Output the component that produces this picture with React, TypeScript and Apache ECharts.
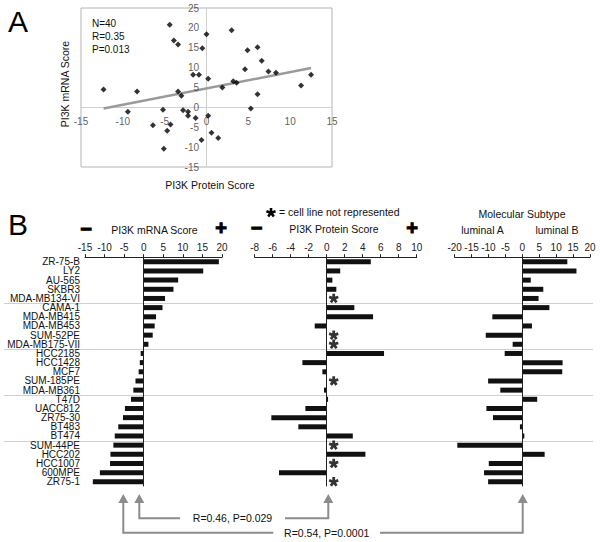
import React, { useEffect, useRef } from "react";
import * as echarts from "echarts";

const FONT = "'Liberation Sans', Arial, Helvetica, sans-serif";

// ---------- Panel A data ----------
const proteinA = [-4.4, 0.0, 3.0, -3.9, -3.4, -0.5, 4.9, 6.1, 6.6, 4.6, 7.4, 8.3, 12.5, -1.6, -0.9, 0.2, 3.2, 3.6, 1.9, 11.3, -12.3, -8.3, -3.4, -3.0, 6.1, 5.3, -9.4, -5.2, -2.8, -2.2, -2.2, 0.2, -1.3, -6.4, -4.3, -4.7, 0.6, 1.4, -0.6, -5.1];
const mrnaA = [20.8, 18.4, 19.4, 16.8, 15.8, 14.9, 14.4, 15.1, 11.7, 9.6, 9.0, 8.7, 8.2, 8.2, 8.2, 7.2, 6.6, 6.2, 5.0, 5.5, 4.5, 4.0, 4.0, 2.9, 3.3, -0.3, -1.1, -0.6, -0.7, -1.1, -2.1, -2.1, -2.7, -4.5, -4.3, -5.9, -6.4, -7.7, -8.2, -10.4];
const trendX = [-12.3, 12.5];
const trendY = [-0.3, 9.9];
const statsA = ["N=40", "R=0.35", "P=0.013"];
const xTicksA = [-15, -10, -5, 0, 5, 10, 15];
const yTicksA = [-15, -10, -5, 0, 5, 10, 15, 20, 25];

// ---------- Panel B data ----------
const cellLines = ["ZR-75-B", "LY2", "AU-565", "SKBR3", "MDA-MB134-VI", "CAMA-1", "MDA-MB415", "MDA-MB453", "SUM-52PE", "MDA-MB175-VII", "HCC2185", "HCC1428", "MCF7", "SUM-185PE", "MDA-MB361", "T47D", "UACC812", "ZR75-30", "BT483", "BT474", "SUM-44PE", "HCC202", "HCC1007", "600MPE", "ZR75-1"];
const mrnaB = [19.2, 15.2, 8.8, 7.6, 5.45, 4.8, 3.15, 2.8, 2.3, 1.2, -0.77, -1.0, -1.3, -2.1, -2.65, -3.25, -4.8, -5.3, -6.5, -7.4, -7.75, -8.5, -8.6, -11.2, -13.0];
const proteinB: (number | null)[] = [4.9, 1.5, 0.63, 1.07, null, 3.07, 5.15, -1.33, null, null, 6.37, -2.7, -0.48, null, -0.3, 0.15, -2.37, -6.15, -3.15, 2.9, null, 4.3, null, -5.3, null];
const subtypeB = [13.3, 16.0, 2.5, 6.2, 4.8, 8.0, -8.85, 2.85, -10.8, -2.85, -5.2, 11.9, 11.8, -10.1, -6.5, 4.4, -10.6, -8.65, -0.7, 0.6, -19.2, 6.6, -9.9, -11.3, -10.1];
const groupSizes = [5, 5, 5, 5, 5];
const corrLabels = ["R=0.46, P=0.029", "R=0.54, P=0.0001"];

// asterisk (5-arm) outline
function asteriskPoints(cx: number, cy: number, r: number, w: number) {
  const pts: number[][] = [];
  const inner = w / Math.sin((36 * Math.PI) / 180);
  for (let k = 0; k < 5; k++) {
    const t = ((-90 + 72 * k) * Math.PI) / 180;
    const c = Math.cos(t), s = Math.sin(t);
    pts.push([cx + r * c + w * s, cy + r * s - w * c]);
    pts.push([cx + r * c - w * s, cy + r * s + w * c]);
    const ti = t + (36 * Math.PI) / 180;
    pts.push([cx + inner * Math.cos(ti), cy + inner * Math.sin(ti)]);
  }
  return pts;
}
const starPath =
  "path://" +
  asteriskPoints(10, 10, 10, 2.9)
    .map((p, i) => (i === 0 ? "M" : "L") + p[0].toFixed(2) + " " + p[1].toFixed(2))
    .join(" ") +
  " Z";

const GREY = "#8c8c8c";

export default function App() {
  const ref = useRef<HTMLDivElement>(null);
  useEffect(() => {
    if (!ref.current) return;
    const chart = echarts.init(ref.current, undefined, { renderer: "svg" });

    const bAxisX = (gi: number, min: number, max: number, interval: number) => ({
      type: "value",
      gridIndex: gi,
      position: "top",
      min,
      max,
      interval,
      splitLine: { show: false },
      axisLine: { show: true, onZero: false, lineStyle: { color: "#222", width: 1 } },
      axisTick: { show: true, length: 3, lineStyle: { color: "#222" } },
      axisLabel: { fontSize: 10, color: "#222", margin: 5, fontFamily: FONT },
    });
    const bAxisY = (gi: number, showLabels: boolean) => ({
      type: "category",
      gridIndex: gi,
      inverse: true,
      data: cellLines,
      axisLine: { show: false, onZero: false },
      axisTick: { show: false },
      splitLine: { show: false },
      axisLabel: {
        show: showLabels,
        interval: 0,
        fontSize: 10,
        lineHeight: 9,
        color: "#111",
        margin: 5,
        fontFamily: FONT,
      },
    });
    const zeroLine = {
      silent: true,
      symbol: ["none", "none"],
      label: { show: false },
      lineStyle: { color: "#222", width: 1, type: "solid" },
      data: [{ xAxis: 0 }],
    };
    const barSeries = (idx: number, data: (number | null)[]) => ({
      type: "bar",
      xAxisIndex: idx,
      yAxisIndex: idx,
      data,
      barWidth: 5,
      itemStyle: { color: "#111" },
      markLine: zeroLine,
    });
    const tickLabelSeries = (data: number[][], position: string, distance: number, dim: number) => ({
      type: "scatter",
      xAxisIndex: 0,
      yAxisIndex: 0,
      data,
      symbolSize: 1,
      silent: true,
      itemStyle: { color: "transparent" },
      label: {
        show: true,
        position,
        distance,
        fontSize: 10,
        color: "#333",
        fontFamily: FONT,
        formatter: (p: any) => String(p.value[dim]),
      },
      z: 2,
    });

    chart.setOption({
      animation: false,
      backgroundColor: "#fff",
      textStyle: { fontFamily: FONT },
      grid: [
        { left: 81, top: 8, width: 251, height: 159, show: true, borderColor: "#b4b4b4", borderWidth: 1, backgroundColor: "transparent" },
        { left: 85, top: 257.2, width: 137, height: 229.2 },
        { left: 254.7, top: 257.2, width: 162, height: 229.2 },
        { left: 454.6, top: 257.2, width: 135.4, height: 229.2 },
      ],
      xAxis: [
        {
          type: "value",
          gridIndex: 0,
          min: -15,
          max: 15,
          interval: 5,
          splitLine: { show: false },
          axisLine: { onZero: true, lineStyle: { color: "#cfcfcf", width: 1 } },
          axisTick: { show: false },
          axisLabel: { show: false },
        },
        bAxisX(1, -15, 20, 5),
        bAxisX(2, -8, 10, 2),
        bAxisX(3, -20, 20, 5),
      ],
      yAxis: [
        {
          type: "value",
          gridIndex: 0,
          min: -15,
          max: 25,
          interval: 5,
          splitLine: { show: false },
          axisLine: { onZero: true, lineStyle: { color: "#cfcfcf", width: 1 } },
          axisTick: { show: false },
          axisLabel: { show: false },
        },
        bAxisY(1, true),
        bAxisY(2, false),
        bAxisY(3, false),
      ],
      series: [
        tickLabelSeries(xTicksA.map((t) => [t, 0]), "bottom", 9, 0),
        tickLabelSeries(yTicksA.map((t) => [0, t]), "left", 7, 1),
        {
          type: "line",
          xAxisIndex: 0,
          yAxisIndex: 0,
          data: trendX.map((x, i) => [x, trendY[i]]),
          showSymbol: false,
          lineStyle: { color: "#9a9a9a", width: 2.5 },
          z: 1,
        },
        {
          type: "scatter",
          xAxisIndex: 0,
          yAxisIndex: 0,
          data: proteinA.map((x, i) => [x, mrnaA[i]]),
          symbol: "diamond",
          symbolSize: 6,
          itemStyle: { color: "#000" },
          z: 3,
        },
        barSeries(1, mrnaB),
        barSeries(2, proteinB),
        barSeries(3, subtypeB),
        {
          type: "scatter",
          xAxisIndex: 2,
          yAxisIndex: 2,
          data: proteinB
            .map((v, i) => (v === null ? [0, cellLines[i]] : null))
            .filter((d) => d !== null),
          symbol: starPath,
          symbolSize: 10,
          symbolKeepAspect: true,
          symbolOffset: [7, 0],
          itemStyle: { color: "#000" },
        },
      ],
    });

    // separator lines between subtype groups, placed with the category scale
    const sepLines: any[] = [];
    let cum = 0;
    for (let g = 0; g < groupSizes.length - 1; g++) {
      cum += groupSizes[g];
      const y1 = chart.convertToPixel({ yAxisIndex: 1 } as any, cellLines[cum - 1]) as unknown as number;
      const y2 = chart.convertToPixel({ yAxisIndex: 1 } as any, cellLines[cum]) as unknown as number;
      const y = Math.round((y1 + y2) / 2) + 0.5;
      sepLines.push({
        type: "line",
        shape: { x1: 4, y1: y, x2: 593, y2: y },
        style: { stroke: "#cfcfcf", lineWidth: 1 },
        z: -1,
      });
    }

    const txt = (text: string, x: number, y: number, opts: any = {}) => ({
      type: "text",
      x,
      y,
      rotation: opts.rotation || 0,
      style: {
        text,
        fontSize: opts.fontSize || 10.5,
        fontFamily: FONT,
        fontWeight: opts.fontWeight || "normal",
        fill: opts.fill || "#111",
        stroke: opts.stroke,
        lineWidth: opts.stroke ? 1 : 0,
        textAlign: opts.align || "center",
        textVerticalAlign: "middle",
      },
    });
    const sign = (s: string, x: number, y: number) =>
      txt(s, x, y, { fontSize: 20, fontWeight: "bold", fill: "#000", stroke: "#000" });

    const arrowHead = (x: number) => ({
      type: "polygon",
      shape: { points: [[x - 5, 503], [x + 5, 503], [x, 494]] },
      style: { fill: GREY },
    });
    const pl = (points: number[][]) => ({
      type: "polyline",
      shape: { points },
      style: { stroke: GREY, lineWidth: 2, fill: null },
    });

    chart.setOption({
      graphic: [
        ...sepLines,
        txt("A", 8, 21, { fontSize: 30, align: "left", fill: "#000" }),
        txt("B", 8, 224, { fontSize: 30, align: "left", fill: "#000" }),
        txt(statsA[0], 92, 23, { fontSize: 10, align: "left" }),
        txt(statsA[1], 92, 36, { fontSize: 10, align: "left" }),
        txt(statsA[2], 92, 49, { fontSize: 10, align: "left" }),
        txt("PI3K mRNA Score", 65, 84, { rotation: Math.PI / 2 }),
        txt("PI3K Protein Score", 210, 185),
        // panel B headers
        sign("−", 86, 229),
        txt("PI3K mRNA Score", 154.5, 230),
        sign("+", 221, 228),
        sign("−", 256.5, 228),
        txt("PI3K Protein Score", 334, 229),
        sign("+", 412, 228),
        {
          type: "polygon",
          shape: { points: asteriskPoints(271, 212.7, 4.8, 1.3) },
          style: { fill: "#000" },
        },
        txt("= cell line not represented", 279, 212, { align: "left" }),
        txt("Molecular Subtype", 522, 214),
        txt("luminal A", 482.5, 230),
        txt("luminal B", 557, 230),
        // correlation arrows
        pl([[139.3, 503], [139.3, 518.3], [180, 518.3]]),
        pl([[285, 518.3], [328.3, 518.3], [328.3, 503]]),
        arrowHead(139.3),
        arrowHead(328.3),
        txt(corrLabels[0], 232.5, 517.5),
        pl([[123.3, 503], [123.3, 532.7], [273.3, 532.7]]),
        pl([[380, 532.7], [522.7, 532.7], [522.7, 503]]),
        arrowHead(123.3),
        arrowHead(522.7),
        txt(corrLabels[1], 326.7, 532.7),
      ],
    });

    return () => chart.dispose();
  }, []);

  return (
    <div
      ref={ref}
      style={{ position: "fixed", left: 0, top: 0, width: 600, height: 542, background: "#fff" }}
    />
  );
}
